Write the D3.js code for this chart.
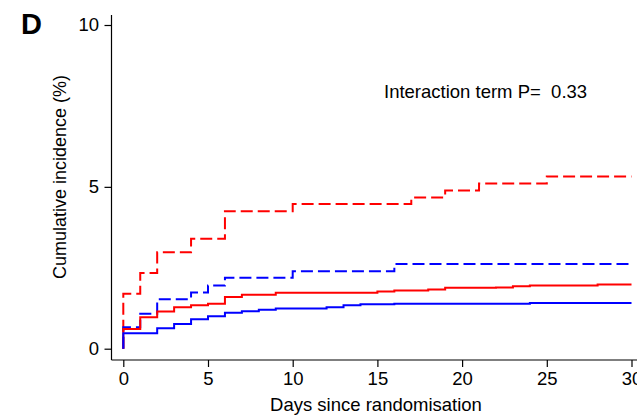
<!DOCTYPE html>
<html>
<head>
<meta charset="utf-8">
<script src="https://cdn.jsdelivr.net/npm/d3@7"></script>
<style>
  body { margin: 0; background: #fff; }
  svg { display: block; font-family: "Liberation Sans", Arial, sans-serif; }
</style>
</head>
<body>
<div id="chart"></div>
<script>
// step curves: day of step, cumulative incidence (%) after it
var redDashedDays = [0, 1, 2, 4, 6, 10, 17, 19, 21, 25, 30];
var redDashedVals = [1.70, 2.34, 2.98, 3.40, 4.25, 4.47, 4.67, 4.89, 5.10, 5.32, 5.32];

var blueDashedDays = [0, 1, 2, 4, 5, 6, 10, 16, 30];
var blueDashedVals = [0.66, 1.08, 1.53, 1.74, 1.95, 2.19, 2.39, 2.62, 2.62];

var redSolidDays = [0, 1, 2, 3, 4, 5, 6, 7, 9, 15, 16, 18, 19, 22, 23, 24, 28, 30];
var redSolidVals = [0.61, 0.97, 1.15, 1.28, 1.34, 1.39, 1.60, 1.67, 1.73, 1.77, 1.80, 1.83, 1.88, 1.89, 1.93, 1.95, 1.98, 1.98];

var blueSolidDays = [0, 2, 3, 4, 5, 6, 7, 8, 9, 12, 13, 14, 16, 24, 30];
var blueSolidVals = [0.48, 0.63, 0.76, 0.91, 1.00, 1.11, 1.16, 1.20, 1.24, 1.28, 1.34, 1.37, 1.39, 1.41, 1.41];

var xTicks = [0, 5, 10, 15, 20, 25, 30];
var yTicks = [0, 5, 10];

var width = 637, height = 417;

var svg = d3.select("#chart").append("svg")
  .attr("width", width)
  .attr("height", height);

var x = d3.scaleLinear().domain([0, 30]).range([123.3, 631.5]);
var y = d3.scaleLinear().domain([0, 10]).range([348.7, 25]);

var axisX = 111.5, axisY = 360;

// x axis
var gx = svg.append("g")
  .attr("transform", "translate(0," + axisY + ")")
  .call(d3.axisBottom(x).tickValues(xTicks).tickSize(7).tickPadding(5));
gx.select(".domain").remove();
gx.append("line")
  .attr("x1", axisX).attr("x2", width)
  .attr("stroke", "#000").attr("stroke-width", 1.2);

// y axis
var gy = svg.append("g")
  .attr("transform", "translate(" + axisX + ",0)")
  .call(d3.axisLeft(y).tickValues(yTicks).tickSize(7).tickPadding(5.5));
gy.select(".domain").remove();
gy.append("line")
  .attr("y1", 15).attr("y2", axisY)
  .attr("stroke", "#000").attr("stroke-width", 1.2);

svg.selectAll(".tick line").attr("stroke", "#000").attr("stroke-width", 1.2);
svg.selectAll(".tick text")
  .attr("fill", "#000")
  .style("font-size", "18.5px")
  .style("font-family", "'Liberation Sans', Arial, sans-serif");

// curves
var line = d3.line()
  .x(function(d) { return x(d[0]); })
  .y(function(d) { return y(d[1]); })
  .curve(d3.curveStepAfter);

function pts(days, vals) {
  var p = [[0, 0]];
  days.forEach(function(d, i) { p.push([d, vals[i]]); });
  return p;
}

var series = [
  {days: redDashedDays, vals: redDashedVals, color: "#ff0000", dash: "12,5"},
  {days: blueDashedDays, vals: blueDashedVals, color: "#0000ff", dash: "12,5"},
  {days: redSolidDays, vals: redSolidVals, color: "#ff0000", dash: null},
  {days: blueSolidDays, vals: blueSolidVals, color: "#0000ff", dash: null}
];

svg.selectAll("path.curve")
  .data(series)
  .enter().append("path")
  .attr("class", "curve")
  .attr("d", function(s) { return line(pts(s.days, s.vals)); })
  .attr("fill", "none")
  .attr("stroke", function(s) { return s.color; })
  .attr("stroke-width", 2)
  .attr("stroke-dasharray", function(s) { return s.dash; });

// labels
svg.append("text")
  .attr("x", 376).attr("y", 411)
  .attr("text-anchor", "middle")
  .style("font-size", "18.5px")
  .text("Days since randomisation");

svg.append("text")
  .attr("transform", "translate(65.5,177) rotate(-90)")
  .attr("text-anchor", "middle")
  .style("font-size", "18px")
  .text("Cumulative incidence (%)");

svg.append("text")
  .attr("x", 384).attr("y", 98)
  .style("font-size", "18.5px")
  .attr("xml:space", "preserve")
  .style("white-space", "pre")
  .text("Interaction term P=  0.33");

svg.append("text")
  .attr("x", 21).attr("y", 34)
  .style("font-size", "29px")
  .style("font-weight", "bold")
  .text("D");
</script>
</body>
</html>
